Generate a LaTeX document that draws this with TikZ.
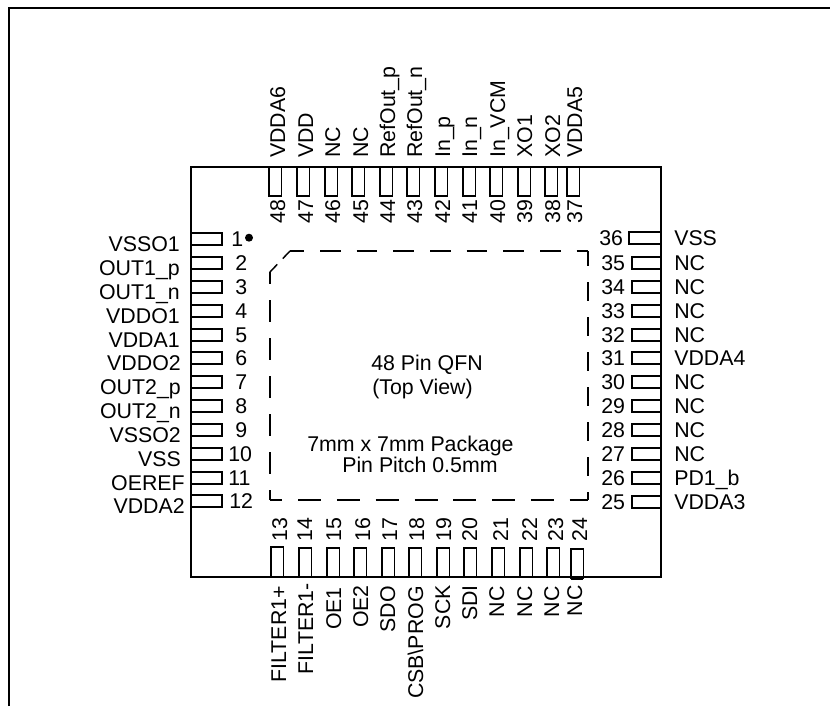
\documentclass[tikz,border=0pt]{standalone}
\usepackage{fontspec}
\setmainfont{Liberation Sans}
\usetikzlibrary{positioning}
\tikzset{frame/.style={line width=1.9pt}}
\tikzset{body/.style={line width=1.3pt}}
\tikzset{pad/.style={line width=1.2pt}}
\tikzset{outline/.style={line width=1.1pt}}
\tikzset{txt/.style={inner sep=0pt,font=\fontsize{16}{18}\selectfont}}

\begin{document}
\begin{tikzpicture}[x=.75pt,y=-.75pt]
  \useasboundingbox (0,0) rectangle (830,706);
  \draw[frame] (9,706) -- (9,8) -- (830,8);
  \draw[body] (191,167) rectangle (661,577);
  % left side
  \foreach \n/\y/\nx/\lx/\name in {1/239/231/180/VSSO1,2/263/235/180/OUT1\_p,3/287/235/180/OUT1\_n,
      4/311/235/180/VDDO1,5/335/235/180/VDDA1,6/358/235/181/VDDO2,7/382/235/181/OUT2\_p,
      8/406/235/181/OUT2\_n,9/430/235/181/VSSO2,10/454/228/181/VSS,11/478/228/185/OEREF,12/501/229/185/VDDA2}
    {
      \draw[pad] (191,\y-6) rectangle (222,\y+6);
      \node[txt,anchor=base west] (num\n) at (\nx,\y+7) {\n};
      \node[txt,anchor=base east] (lbl\n) at (\lx,\y+12) {\name};
    }
  \fill (249,237.7) circle (4);
  % bottom side
  \foreach \n/\x/\t/\b/\nx/\lx/\ly/\name in {13/277/547/577/287/286/586/FILTER1+,14/305/548/577/312/313/583/FILTER1-,
      15/333/548/577/341/341/587/OE1,16/360/548/577/370/368/585/OE2,17/388/548/577/397/395/586/SDO,
      18/415/548/577/424/423/586/CSB\textbackslash PROG,19/443/548/577/451/450/585/SCK,20/470/548/577/477/477/585/SDI,
      21/498/548/577/508/504/586/NC,22/526/548/577/537/532/586/NC,23/553/548/577/563/559/586/NC,24/577/549/579/587/582/585/NC}
    {
      \draw[pad] (\x-6.3,\b) -- (\x-6.3,\t) -- (\x+6.3,\t) -- (\x+6.3,\b);
      \node[txt,rotate=90,anchor=base west] (num\n) at (\nx,542) {\n};
      \node[txt,rotate=90,anchor=base east] (lbl\n) at (\lx,\ly) {\name};
    }
  \draw[pad] (570.7,579) -- (583.3,579);
  % right side
  \foreach \n/\y/\px/\nx/\name in {25/502/632/601/VDDA3,26/478/632/601/PD1\_b,27/454/632/601/NC,28/430/632/601/NC,
      29/406/632/601/NC,30/382/632/601/NC,31/358/632/601/VDDA4,32/335/632/601/NC,33/311/632/601/NC,
      34/287/632/601/NC,35/263/632/601/NC,36/238/629/599/VSS}
    {
      \draw[pad] (661,\y-6) -- (\px,\y-6) -- (\px,\y+6) -- (661,\y+6);
      \node[txt,anchor=base west] (num\n) at (\nx,\y+7.5) {\n};
      \node[txt,anchor=base west] (lbl\n) at (674,\y+7.5) {\name};
    }
  % top side
  \foreach \n/\x/\nx/\name in {37/573/582/VDDA5,38/551/560/XO2,39/524/532/XO1,40/496/505/In\_VCM,41/469/477/In\_n,
      42/441/450/In\_p,43/413/422/RefOut\_n,44/386/395/RefOut\_p,45/358/368/NC,46/331/340/NC,47/303/313/VDD,48/275/285/VDDA6}
    {
      \draw[pad] (\x-6.3,167) -- (\x-6.3,196) -- (\x+6.3,196) -- (\x+6.3,167);
      \node[txt,rotate=90,anchor=base west] (num\n) at (\nx,224) {\n};
      \node[txt,rotate=90,anchor=base west] (lbl\n) at (\nx,158) {\name};
    }
  % die outline
  \draw[outline,dash pattern=on 15.5pt off 12pt,dash phase=5pt] (290,251) -- (588,251);
  \draw[outline,dash pattern=on 14.3pt off 12pt,dash phase=3pt] (588,251) -- (588,500);
  \draw[outline,dash pattern=on 17.3pt off 11.8pt,dash phase=8pt] (270,500) -- (588,500);
  \draw[outline,dash pattern=on 16.3pt off 12.2pt,dash phase=7.5pt] (270,272) -- (270,500);
  \draw[outline,dash pattern=on 7.9pt off 6pt] (270,272) -- (290,251);
  % centre text
  \node[txt,anchor=base west] (title) at (371,370) {48 Pin QFN};
  \node[txt,anchor=base west] (view) at (372,394) {(Top View)};
  \node[txt,anchor=base west] (pkg) at (307,451) {7mm x 7mm Package};
  \node[txt,anchor=base west] (pitch) at (342,472) {Pin Pitch 0.5mm};
\end{tikzpicture}
\end{document}
